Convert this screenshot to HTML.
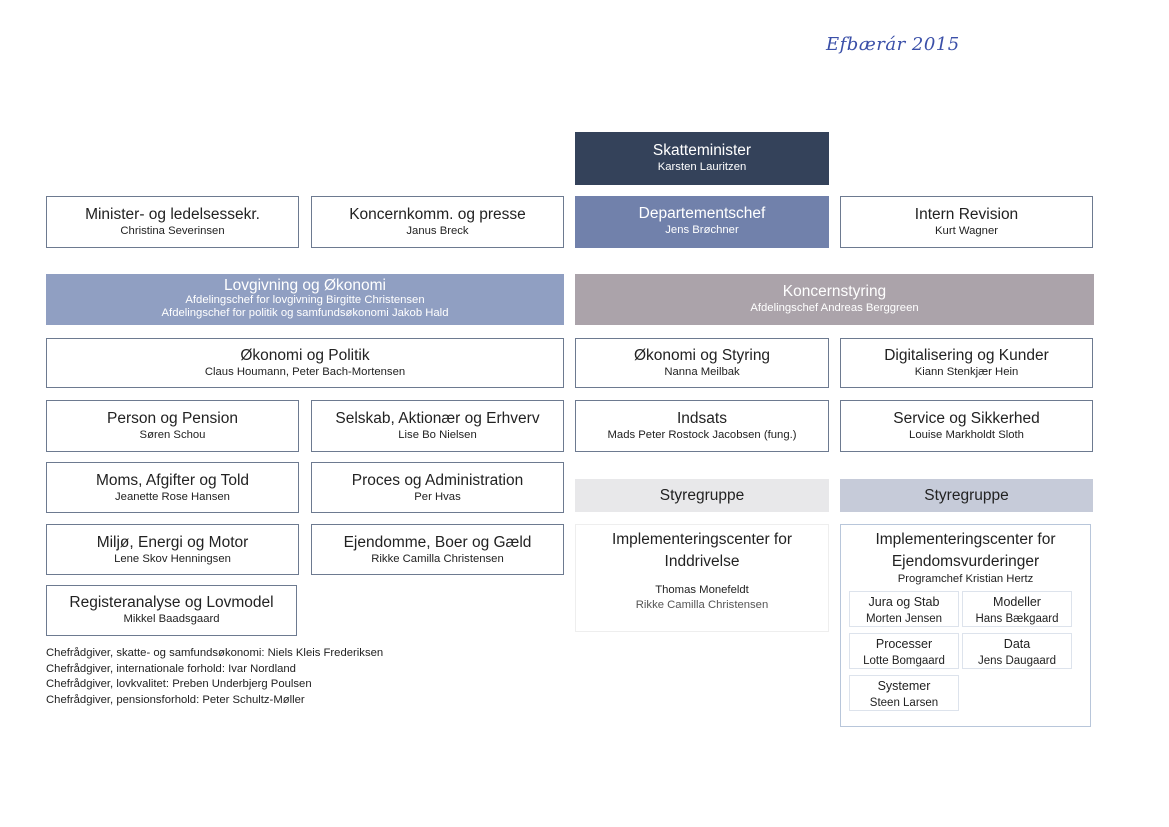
<!DOCTYPE html>
<html><head><meta charset="utf-8"><style>
body{margin:0;width:1169px;height:827px;background:#fff;position:relative;overflow:hidden;font-family:"Liberation Sans","DejaVu Sans",sans-serif;color:#222}
.b{position:absolute;box-sizing:border-box;border:1px solid #6d7a90;text-align:center;background:#fff}
.t{font-size:15.5px;line-height:17px}
.s{font-size:11.3px;line-height:13px}
.t + .s{margin-top:2px}
.w{color:#fff;border:none}
.cell{position:absolute;box-sizing:border-box;border:1px solid #dde3ec;text-align:center;font-size:12.5px;line-height:16px}
</style></head><body>
<div style="position:absolute;left:826px;top:34px;font-family:'DejaVu Serif',serif;font-style:italic;font-size:18px;color:#3a4fa8;letter-spacing:0.5px">Efbærár 2015</div>

<div class="b w" style="left:575px;top:132px;width:254px;height:53px;background:#34425a;padding-top:10px"><div class="t">Skatteminister</div><div class="s">Karsten Lauritzen</div></div>

<div class="b" style="left:46px;top:196px;width:253px;height:52px;padding-top:9px"><div class="t">Minister- og ledelsessekr.</div><div class="s">Christina Severinsen</div></div>
<div class="b" style="left:311px;top:196px;width:253px;height:52px;padding-top:9px"><div class="t">Koncernkomm. og presse</div><div class="s">Janus Breck</div></div>
<div class="b w" style="left:575px;top:196px;width:254px;height:52px;background:#7181ab;padding-top:9px"><div class="t">Departementschef</div><div class="s">Jens Brøchner</div></div>
<div class="b" style="left:840px;top:196px;width:253px;height:52px;padding-top:9px"><div class="t">Intern Revision</div><div class="s">Kurt Wagner</div></div>

<div class="b w" style="left:46px;top:274px;width:518px;height:51px;background:#909fc2;padding-top:3px"><div class="t">Lovgivning og Økonomi</div><div class="s" style="margin-top:0">Afdelingschef for lovgivning Birgitte Christensen</div><div class="s">Afdelingschef for politik og samfundsøkonomi Jakob Hald</div></div>
<div class="b w" style="left:575px;top:274px;width:519px;height:51px;background:#aba3aa;padding-top:9px"><div class="t">Koncernstyring</div><div class="s">Afdelingschef Andreas Berggreen</div></div>

<div class="b" style="left:46px;top:338px;width:518px;height:50px;padding-top:8px"><div class="t">Økonomi og Politik</div><div class="s">Claus Houmann, Peter Bach-Mortensen</div></div>
<div class="b" style="left:575px;top:338px;width:254px;height:50px;padding-top:8px"><div class="t">Økonomi og Styring</div><div class="s">Nanna Meilbak</div></div>
<div class="b" style="left:840px;top:338px;width:253px;height:50px;padding-top:8px"><div class="t">Digitalisering og Kunder</div><div class="s">Kiann Stenkjær Hein</div></div>

<div class="b" style="left:46px;top:400px;width:253px;height:52px;padding-top:9px"><div class="t">Person og Pension</div><div class="s">Søren Schou</div></div>
<div class="b" style="left:311px;top:400px;width:253px;height:52px;padding-top:9px"><div class="t">Selskab, Aktionær og Erhverv</div><div class="s">Lise Bo Nielsen</div></div>
<div class="b" style="left:575px;top:400px;width:254px;height:52px;padding-top:9px"><div class="t">Indsats</div><div class="s">Mads Peter Rostock Jacobsen (fung.)</div></div>
<div class="b" style="left:840px;top:400px;width:253px;height:52px;padding-top:9px"><div class="t">Service og Sikkerhed</div><div class="s">Louise Markholdt Sloth</div></div>

<div class="b" style="left:46px;top:462px;width:253px;height:51px;padding-top:9px"><div class="t">Moms, Afgifter og Told</div><div class="s">Jeanette Rose Hansen</div></div>
<div class="b" style="left:311px;top:462px;width:253px;height:51px;padding-top:9px"><div class="t">Proces og Administration</div><div class="s">Per Hvas</div></div>
<div class="b" style="left:575px;top:479px;width:254px;height:33px;border:none;background:#e8e8ea;padding-top:8px"><div class="t">Styregruppe</div></div>
<div class="b" style="left:840px;top:479px;width:253px;height:33px;border:none;background:#c6cbd9;padding-top:8px"><div class="t">Styregruppe</div></div>

<div class="b" style="left:46px;top:524px;width:253px;height:51px;padding-top:9px"><div class="t">Miljø, Energi og Motor</div><div class="s">Lene Skov Henningsen</div></div>
<div class="b" style="left:311px;top:524px;width:253px;height:51px;padding-top:9px"><div class="t">Ejendomme, Boer og Gæld</div><div class="s">Rikke Camilla Christensen</div></div>
<div class="b" style="left:575px;top:524px;width:254px;height:108px;border:1px solid #eeeeee;padding-top:4px"><div class="t" style="line-height:22px">Implementeringscenter for<br>Inddrivelse</div><div class="s" style="margin-top:11px">Thomas Monefeldt</div><div class="s" style="color:#555;margin-top:2px">Rikke Camilla Christensen</div></div>
<div class="b" style="left:840px;top:524px;width:251px;height:203px;border:1px solid #b8c6da;padding-top:4px"><div class="t" style="line-height:22px">Implementeringscenter for<br>Ejendomsvurderinger</div><div class="s" style="margin-top:0">Programchef Kristian Hertz</div></div>
<div class="cell" style="left:849px;top:591px;width:110px;height:36px;padding-top:2px">Jura og Stab<br><span style="font-size:11.5px">Morten Jensen</span></div>
<div class="cell" style="left:962px;top:591px;width:110px;height:36px;padding-top:2px">Modeller<br><span style="font-size:11.5px">Hans Bækgaard</span></div>
<div class="cell" style="left:849px;top:633px;width:110px;height:36px;padding-top:2px">Processer<br><span style="font-size:11.5px">Lotte Bomgaard</span></div>
<div class="cell" style="left:962px;top:633px;width:110px;height:36px;padding-top:2px">Data<br><span style="font-size:11.5px">Jens Daugaard</span></div>
<div class="cell" style="left:849px;top:675px;width:110px;height:36px;padding-top:2px">Systemer<br><span style="font-size:11.5px">Steen Larsen</span></div>

<div class="b" style="left:46px;top:585px;width:251px;height:51px;padding-top:8px"><div class="t">Registeranalyse og Lovmodel</div><div class="s">Mikkel Baadsgaard</div></div>

<div style="position:absolute;left:46px;top:646px;font-size:11.3px;line-height:15.7px">Chefrådgiver, skatte- og samfundsøkonomi: Niels Kleis Frederiksen<br>Chefrådgiver, internationale forhold: Ivar Nordland<br>Chefrådgiver, lovkvalitet: Preben Underbjerg Poulsen<br>Chefrådgiver, pensionsforhold: Peter Schultz-Møller</div>
</body></html>
